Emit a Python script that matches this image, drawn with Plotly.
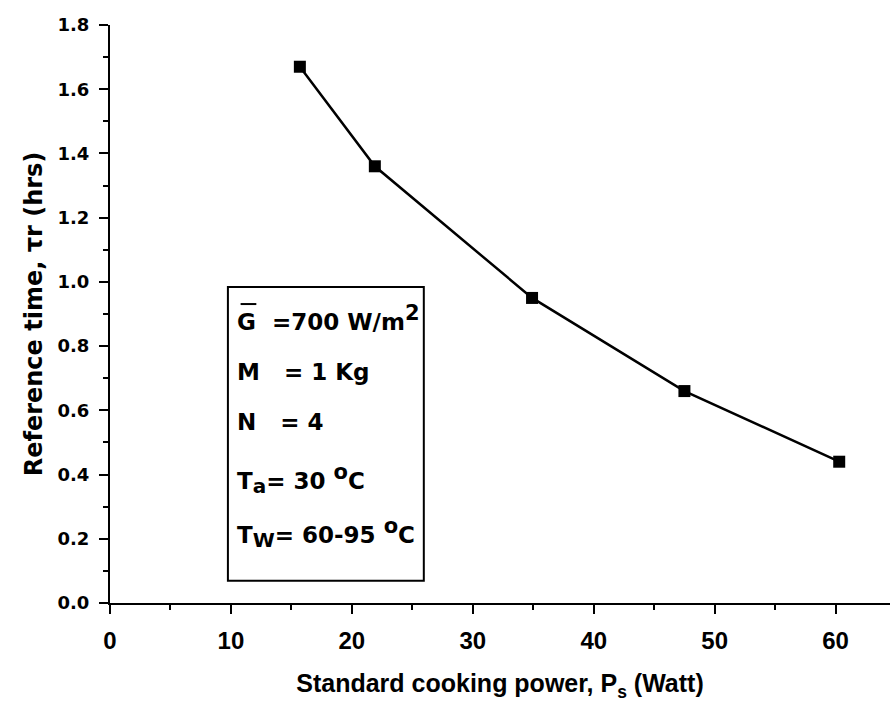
import plotly.graph_objects as go

# Reference cooking time vs. standard cooking power
power_w = [15.7, 21.9, 34.9, 47.5, 60.3]
ref_time_hrs = [1.67, 1.36, 0.95, 0.66, 0.44]

x_ticks = [0, 10, 20, 30, 40, 50, 60]
y_ticks = [0.0, 0.2, 0.4, 0.6, 0.8, 1.0, 1.2, 1.4, 1.6, 1.8]

BIG_SUP = "<sup><span style='font-size:21px'>{}</span></sup>"
BIG_SUB = "<sub><span style='font-size:20px'>{}</span></sub>"

condition_lines = [
    "G\u00a0\u00a0=700 W/m" + BIG_SUP.format("2"),
    "M\u00a0\u00a0\u00a0= 1 Kg",
    "N\u00a0\u00a0\u00a0= 4",
    "T" + BIG_SUB.format("a") + "= 30 " + BIG_SUP.format("o") + "C",
    "T" + BIG_SUB.format("W") + "= 60-95 " + BIG_SUP.format("o") + "C",
]
condition_y = [0.888, 0.720, 0.564, 0.385, 0.219]

WIDE = "DejaVu Sans, Verdana, sans-serif"
ARIAL = "Liberation Sans, Arial, sans-serif"

fig = go.Figure()
fig.add_trace(go.Scatter(
    x=power_w, y=ref_time_hrs,
    mode="lines+markers",
    line=dict(color="black", width=2.5),
    marker=dict(symbol="square", size=12, color="black"),
    showlegend=False,
))

# framed box holding the operating conditions
fig.add_shape(type="rect", xref="x", yref="y",
              x0=9.75, x1=25.95, y0=0.069, y1=0.984,
              line=dict(color="black", width=2), fillcolor="rgba(0,0,0,0)")
for txt, yy in zip(condition_lines, condition_y):
    fig.add_annotation(x=10.35, y=yy, xref="x", yref="y", text=txt,
                       showarrow=False, xanchor="left", yanchor="middle",
                       font=dict(family=WIDE, size=23, color="black", weight="bold"))
# bar over the G (mean irradiance)
fig.add_shape(type="line", xref="x", yref="y",
              x0=10.8, x1=12.1, y0=0.931, y1=0.931,
              line=dict(color="black", width=2))

fig.update_xaxes(
    range=[0, 64.5], tickvals=x_ticks, ticktext=[str(v) for v in x_ticks],
    showline=True, linecolor="black", linewidth=2,
    ticks="outside", ticklen=9, tickwidth=2, tickcolor="black",
    minor=dict(dtick=5, ticks="outside", ticklen=5, tickwidth=2, tickcolor="black"),
    showgrid=False, zeroline=False,
    tickfont=dict(family=ARIAL, size=24, color="black", weight="bold"),
    ticklabelstandoff=6,
    title=dict(text="Standard cooking power, P<sub>s</sub> (Watt)",
               font=dict(family=ARIAL, size=25, color="black", weight="bold"),
               standoff=22),
)
fig.update_yaxes(
    range=[0, 1.8], tickvals=y_ticks, tickformat=".1f",
    showline=True, linecolor="black", linewidth=2,
    ticks="outside", ticklen=9, tickwidth=2, tickcolor="black",
    minor=dict(dtick=0.1, ticks="outside", ticklen=5, tickwidth=2, tickcolor="black"),
    showgrid=False, zeroline=False,
    tickfont=dict(family=WIDE, size=18, color="black", weight="bold"),
    ticklabelstandoff=6,
    title=dict(text="Reference time, \u03c4r (hrs)",
               font=dict(family=WIDE, size=24, color="black", weight="bold"),
               standoff=8),
)
fig.update_layout(
    width=890, height=704,
    margin=dict(l=110, r=0, t=25, b=101),
    paper_bgcolor="white", plot_bgcolor="white",
)
fig.write_html("out.html")
